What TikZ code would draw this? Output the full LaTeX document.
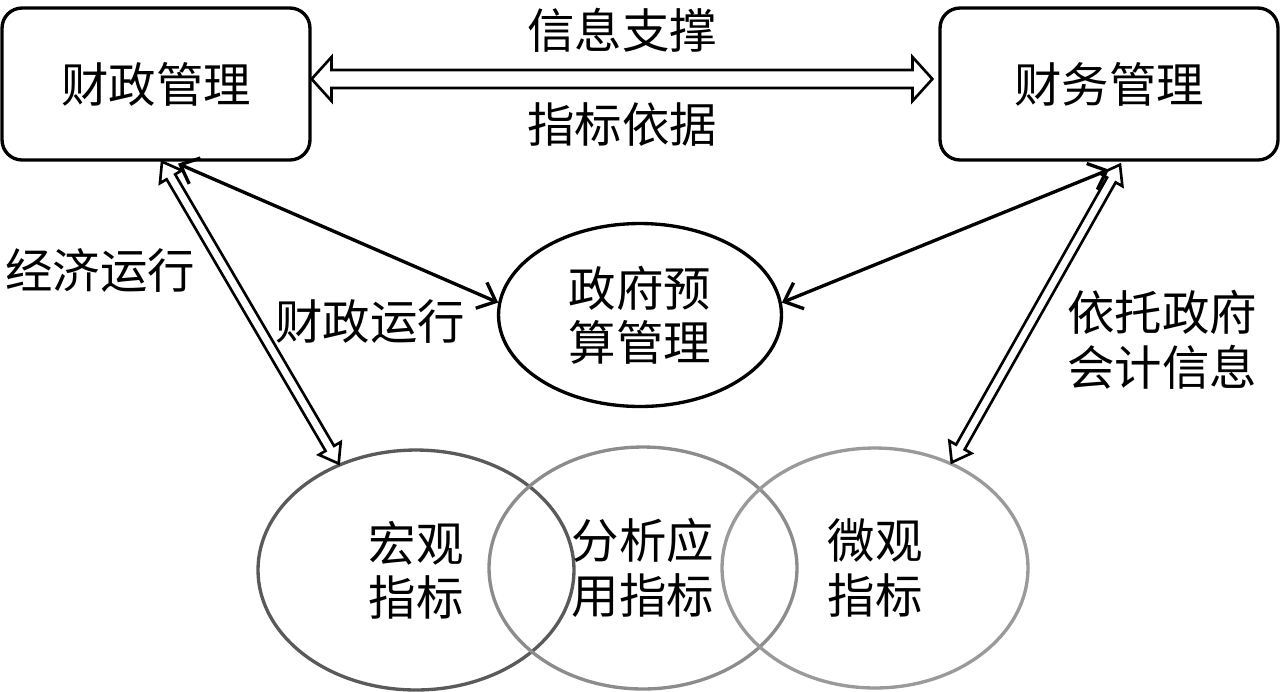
\documentclass[tikz,border=0pt]{standalone}
\usepackage{fontspec}
\setmainfont{Noto Sans CJK SC}
\usetikzlibrary{arrows,arrows.meta,shapes,calc}

\definecolor{darkring}{HTML}{5A5A5A}
\definecolor{midring}{HTML}{8C8C8C}
\definecolor{paleround}{HTML}{9A9A9A}

% hollow double arrow: from, to, shaft half width, head half width, head length (pt)
\newcommand{\hollowarrow}[5]{%
  \draw[myhollow] let \p1=($(#2)-(#1)$), \n1={atan2(\y1,\x1)}, \n2={veclen(\x1,\y1)} in
    [shift={(#1)},rotate=\n1] (0pt,0pt) -- (#5pt,#4pt) -- (#5pt,#3pt) -- (\n2-#5pt,#3pt)
    -- (\n2-#5pt,#4pt) -- (\n2,0pt) -- (\n2-#5pt,-#4pt) -- (\n2-#5pt,-#3pt)
    -- (#5pt,-#3pt) -- (#5pt,-#4pt) -- cycle;}

\begin{document}
\begin{tikzpicture}[x=0.02cm,y=-0.02cm]
                \tikzstyle{every node}=[font=\fontsize{27}{31}\selectfont]
                \tikzstyle{mybox}=[draw,line width=1.9pt,rounded corners=0.4cm,minimum height=3.04cm]
                \tikzstyle{myround}=[draw,ellipse,line width=1.9pt,align=center]
                \tikzstyle{mylink}=[line width=1.9pt,{Straight Barb[length=9pt,width=16pt]}-{Straight Barb[length=9pt,width=16pt]}]
                \tikzstyle{myhollow}=[draw,line width=1.5pt,fill=white,line join=miter]

                \useasboundingbox (0,0) rectangle (1280,691);

                \node[mybox,minimum width=6.16cm] (fin) at (156,84) {财政管理};
                \node[mybox,minimum width=6.76cm] (fma) at (1109,84) {财务管理};
                \node[myround,minimum width=5.66cm,minimum height=3.66cm] (budget) at (640,315) {政府预\\算管理};

                \node[myround,draw=darkring,minimum width=6.32cm,minimum height=4.8cm] (macro) at (416,570) {宏观\\指标};
                \node[myround,draw=midring,minimum width=6.16cm,minimum height=4.84cm] (apply) at (643,568) {分析应\\用指标};
                \node[myround,draw=paleround,minimum width=6.12cm,minimum height=4.8cm] (micro) at (875,568) {微观\\指标};

                \node (sup) at (622,30) {信息支撑};
                \node (basis) at (622,125) {指标依据};
                \node (econ) at (100,270) {经济运行};
                \node (fisc) at (370,322) {财政运行};
                \node[align=left] (acct) at (1162,340) {依托政府\\会计信息};

                \coordinate (t1) at ([yshift=0.1cm]fin.east);
                \coordinate (t2) at ([xshift=-0.12cm,yshift=0.1cm]fma.west);
                \coordinate (finb) at ([xshift=0.12cm]fin.south);
                \coordinate (finc) at ([xshift=0.44cm,yshift=-0.04cm]fin.south);
                \coordinate (fmab) at ([xshift=0.22cm,yshift=-0.06cm]fma.south);
                \coordinate (fmac) at ([yshift=-0.16cm]fma.south);

                \hollowarrow{t1}{t2}{5.1}{12.5}{11.3}
                \hollowarrow{finb}{macro.126}{2.8}{7.2}{10}
                \hollowarrow{fmab}{micro.54}{2.8}{7.2}{10}

                \draw[mylink] (finc) -- (budget.175);
                \draw[mylink] (fmac) -- (budget.5);

\end{tikzpicture}
\end{document}
